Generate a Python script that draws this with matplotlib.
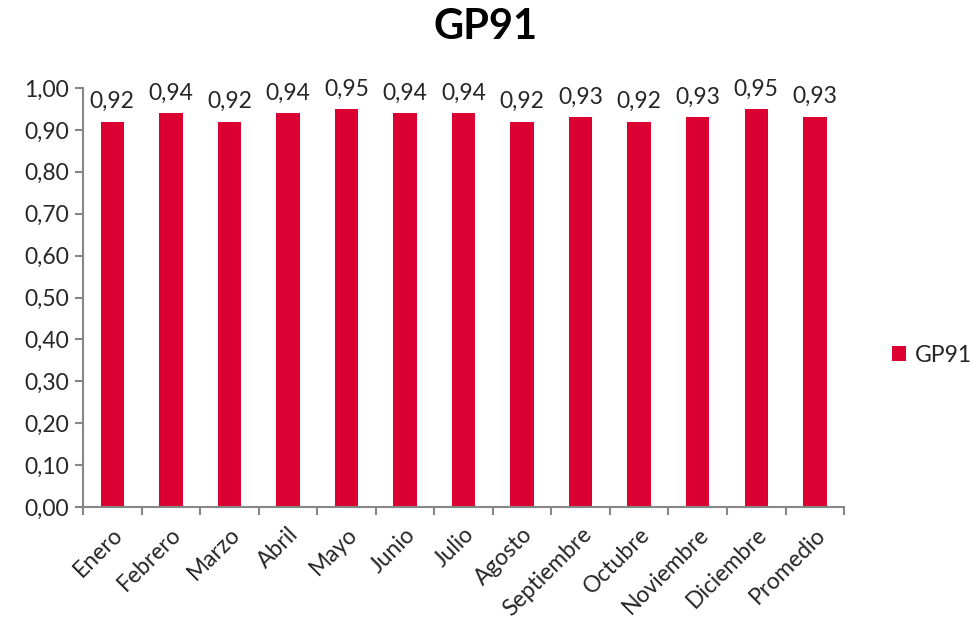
import matplotlib.pyplot as plt
import numpy as np

meses = ["Enero", "Febrero", "Marzo", "Abril", "Mayo", "Junio", "Julio",
         "Agosto", "Septiembre", "Octubre", "Noviembre", "Diciembre", "Promedio"]
gp91 = [0.92, 0.94, 0.92, 0.94, 0.95, 0.94, 0.94, 0.92, 0.93, 0.92, 0.93, 0.95, 0.932]
y_ticks = [0.0, 0.1, 0.2, 0.3, 0.4, 0.5, 0.6, 0.7, 0.8, 0.9, 1.0]

plt.rcParams['font.family'] = ['Lato', 'DejaVu Sans']
rojo = "#DC0032"
gris = "#868686"
texto = "#262626"
fs = 16.5

fig = plt.figure(figsize=(9.72, 6.31), dpi=100)
ax = fig.add_axes([0.0854, 0.1965, 0.783, 0.664])

x = np.arange(len(meses))
bars = ax.bar(x, gp91, width=0.4, color=rojo, label="GP91", zorder=2)

for xi, v in zip(x, gp91):
    ax.text(xi, v + 0.022, f"{v:.2f}".replace(".", ","), ha="center", va="bottom",
            fontsize=fs, color=texto)

ax.set_xlim(-0.5, len(meses) - 0.5)
ax.set_ylim(0, 1.0)
ax.set_yticks(y_ticks)
ax.set_yticklabels([f"{t:.2f}".replace(".", ",") for t in y_ticks], fontsize=fs, color=texto)

ax.set_xticks(x)
ax.set_xticklabels(meses, rotation=45, ha="right", rotation_mode="anchor", fontsize=fs, color=texto)
ax.tick_params(axis="x", length=0, pad=12)
ax.set_xticks(np.arange(-0.5, len(meses), 1), minor=True)
ax.tick_params(axis="x", which="minor", length=6, color=gris, width=1.5)
ax.tick_params(axis="y", length=6, color=gris, width=1.5, pad=4)

for s in ["top", "right"]:
    ax.spines[s].set_visible(False)
for s in ["left", "bottom"]:
    ax.spines[s].set_color(gris)
    ax.spines[s].set_linewidth(1.5)

fig.text(0.5, 0.957, "GP91", ha="center", va="center", fontsize=30, fontweight="bold", color="black")

fig.legend(handles=[bars], labels=["GP91"], loc="center left", bbox_to_anchor=(0.918, 0.437),
           frameon=False, fontsize=fs, handlelength=0.6, handleheight=0.6, handletextpad=0.4,
           borderpad=0, borderaxespad=0, labelcolor=texto)

fig.savefig("out.png", dpi=100)
